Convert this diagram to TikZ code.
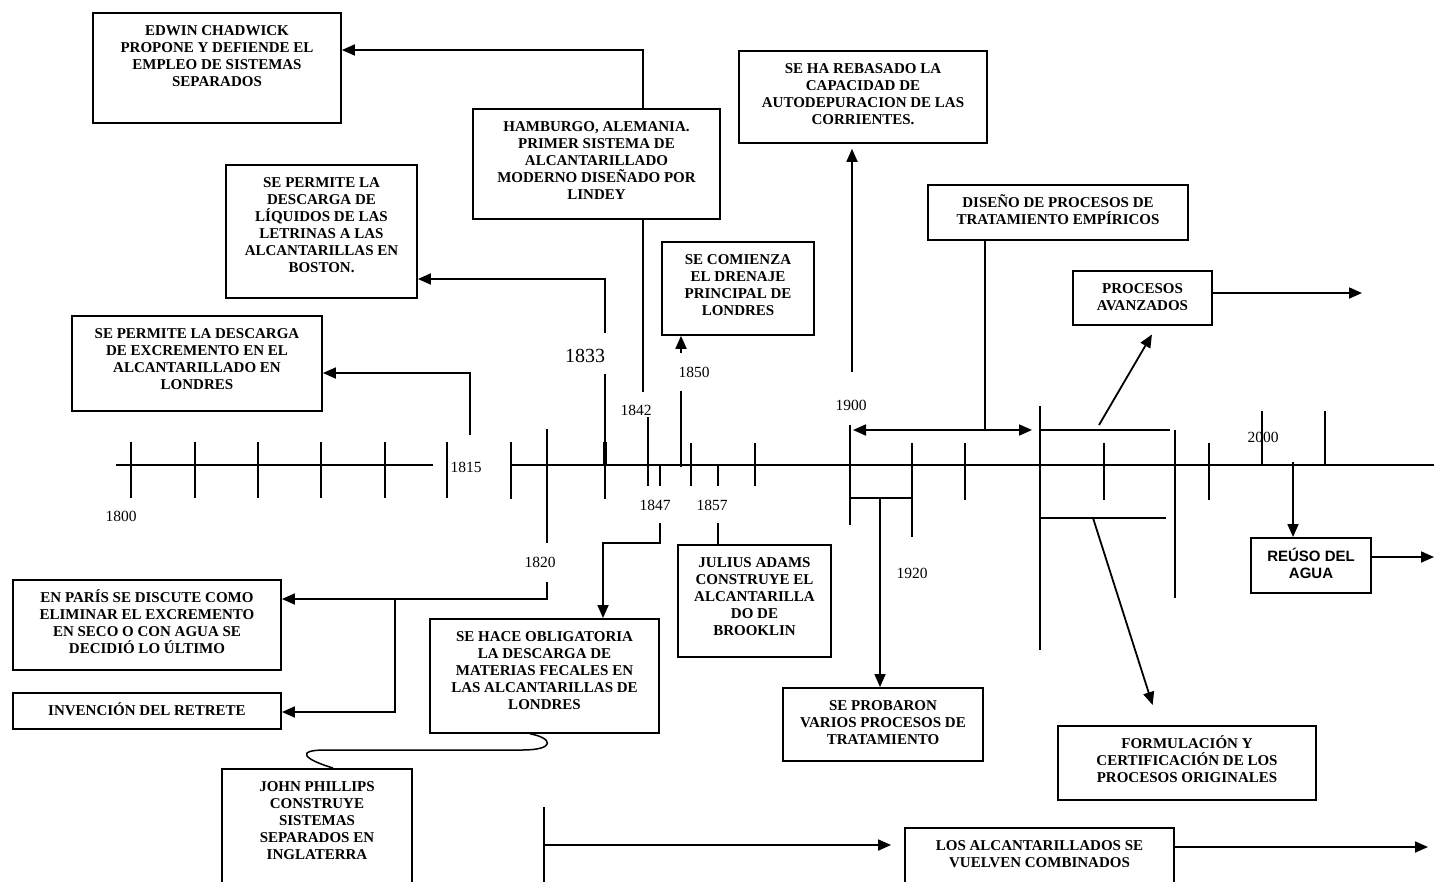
\documentclass[tikz,border=0pt]{standalone}
\usepackage{fontspec}
\setmainfont{Liberation Serif}
\newfontfamily\sansfam{Liberation Sans}
\usetikzlibrary{arrows.meta}

% event text: fixed-size box, text centred horizontally and set from the top
\newcommand\evt[3]{\vbox to #2{\hsize=#1\relax\parindent=0pt\relax
  \lineskiplimit=-100pt\relax\vskip10pt\centering
  \leavevmode\vrule width0pt height13pt depth0pt\relax#3\par\vss}}

\begin{document}
\begin{tikzpicture}[x=1pt,y=-1pt,
  ln/.style={line width=1.8pt},
  arr/.style={ln,-{Triangle[length=13pt,width=11pt]}},
  dblarr/.style={ln,{Triangle[length=13pt,width=11pt]}-{Triangle[length=13pt,width=11pt]}},
  evbox/.style={draw,line width=1.8pt,inner sep=0pt,anchor=north,
    font=\bfseries\fontsize{15}{17}\selectfont},
  sansbox/.style={evbox,font=\sansfam\bfseries\fontsize{15}{17}\selectfont},
  yr/.style={font=\fontsize{15.5}{17}\selectfont,inner sep=1pt},
  bigyr/.style={font=\fontsize{20}{22}\selectfont,inner sep=1pt}]

\fill[white] (0,0) rectangle (1434,881);
\useasboundingbox (0,0) rectangle (1434,881);

% ---------- timeline ----------
\coordinate (ax0) at (116,465);
\coordinate (ax1) at (433,465);
\coordinate (ax2) at (511,465);
\coordinate (ax3) at (1434,465);
\draw[ln] (ax0) -- (ax1);
\draw[ln] (ax2) -- (ax3);
\foreach \x/\a/\b in {131/442/498,195/442/498,258/442/498,321/442/498,385/442/498,
  447/442/498,511/442/499,547/429/543,605/374/499,648/417/486,660/466/486,
  681/391/467,691/443/486,718/466/486,755/443/486,850/425/525,912/443/537,
  965/443/500,1040/406/650,1104/443/500,1175/430/598,1209/443/500,
  1262/411/466,1325/411/466}
  \draw[ln] (\x,\a) -- (\x,\b);
\draw[line width=3.2pt] (605,442) -- (605,466);

% ---------- years ----------
\node[yr] (y1800) at (121,516) {1800};
\node[yr] (y1815) at (466,467) {1815};
\node[yr] (y1820) at (540,562) {1820};
\node[bigyr] (y1833) at (585,356) {1833};
\node[yr] (y1842) at (636,410) {1842};
\node[yr] (y1847) at (655,505) {1847};
\node[yr] (y1850) at (694,372) {1850};
\node[yr] (y1857) at (712,505) {1857};
\node[yr] (y1900) at (851,405) {1900};
\node[yr] (y1920) at (912,573) {1920};
\node[yr] (y2000) at (1263,437) {2000};

% ---------- events ----------
\node[evbox] (chad) at (217,12) {\evt{248pt}{110pt}{EDWIN CHADWICK\\PROPONE Y DEFIENDE EL\\EMPLEO DE SISTEMAS\\SEPARADOS}};
\node[evbox] (hamb) at (596.5,108) {\evt{247pt}{110pt}{HAMBURGO, ALEMANIA.\\PRIMER SISTEMA DE\\ALCANTARILLADO\\MODERNO DISEÑADO POR\\LINDEY}};
\node[evbox] (bost) at (321.5,164) {\evt{191pt}{133pt}{SE PERMITE LA\\DESCARGA DE\\LÍQUIDOS DE LAS\\LETRINAS A LAS\\ALCANTARILLAS EN\\BOSTON.}};
\node[evbox] (excr) at (197,315) {\evt{250pt}{95pt}{SE PERMITE LA DESCARGA\\DE EXCREMENTO EN EL\\ALCANTARILLADO EN\\LONDRES}};
\node[evbox] (rebas) at (863,50) {\evt{248pt}{92pt}{SE HA REBASADO LA\\CAPACIDAD DE\\AUTODEPURACION DE LAS\\CORRIENTES.}};
\node[evbox] (drena) at (738,241) {\evt{152pt}{93pt}{SE COMIENZA\\EL DRENAJE\\PRINCIPAL DE\\LONDRES}};
\node[evbox] (disen) at (1058,184) {\evt{260pt}{55pt}{DISEÑO DE PROCESOS DE\\TRATAMIENTO EMPÍRICOS}};
\node[evbox] (proc) at (1142.5,270) {\evt{139pt}{54pt}{PROCESOS\\AVANZADOS}};
\node[sansbox] (reuso) at (1311,537) {\evt{120pt}{55pt}{REÚSO DEL\\AGUA}};
\node[evbox] (paris) at (147,579) {\evt{268pt}{90pt}{EN PARÍS SE DISCUTE COMO\\ELIMINAR EL EXCREMENTO\\EN SECO O CON AGUA SE\\DECIDIÓ LO ÚLTIMO}};
\node[evbox] (retr) at (147,692) {\evt{268pt}{36pt}{INVENCIÓN DEL RETRETE}};
\node[evbox] (john) at (317,768) {\evt{190pt}{125pt}{JOHN PHILLIPS\\CONSTRUYE\\SISTEMAS\\SEPARADOS EN\\INGLATERRA}};
\node[evbox] (hace) at (544.5,618) {\evt{229pt}{114pt}{SE HACE OBLIGATORIA\\LA DESCARGA DE\\MATERIAS FECALES EN\\LAS ALCANTARILLAS DE\\LONDRES}};
\node[evbox] (jul) at (754.5,544) {\evt{153pt}{112pt}{JULIUS ADAMS\\CONSTRUYE EL\\ALCANTARILLA\\DO DE\\BROOKLIN}};
\node[evbox] (prob) at (883,687) {\evt{200pt}{73pt}{SE PROBARON\\VARIOS PROCESOS DE\\TRATAMIENTO}};
\node[evbox] (form) at (1187,725) {\evt{258pt}{74pt}{FORMULACIÓN Y\\CERTIFICACIÓN DE LOS\\PROCESOS ORIGINALES}};
\node[evbox] (comb) at (1039.5,827) {\evt{269pt}{70pt}{LOS ALCANTARILLADOS SE\\VUELVEN COMBINADOS}};

% ---------- connectors ----------
\coordinate (k42) at (643,392);
\coordinate (b1) at (643,50);
\draw[ln] (hamb.south -| k42) -- (k42);
\draw[arr] (hamb.north -| b1) -- (b1) -- (chad.east |- b1);

\coordinate (q33) at (605,333);
\coordinate (b2) at (605,279);
\draw[arr] (q33) -- (b2) -- (bost.east |- b2);

\coordinate (q15) at (470,435);
\coordinate (b3) at (470,373);
\draw[arr] (q15) -- (b3) -- (excr.east |- b3);

\coordinate (q20) at (547,582);
\coordinate (b4) at (547,599);
\coordinate (b5) at (395,599);
\coordinate (b6) at (395,712);
\draw[arr] (q20) -- (b4) -- (paris.east |- b4);
\draw[arr] (b5) -- (b6) -- (retr.east |- b6);

\coordinate (q47) at (660,523);
\coordinate (b7) at (660,543);
\coordinate (b8) at (603,543);
\draw[arr] (q47) -- (b7) -- (b8) -- (hace.north -| b8);

\coordinate (q57) at (718,523);
\draw[ln] (q57) -- (jul.north -| q57);

\coordinate (q50) at (681,353);
\draw[arr] (q50) -- (drena.south -| q50);

\coordinate (q00) at (852,372);
\draw[arr,shorten >=5pt] (q00) -- (rebas.south -| q00);

\coordinate (d1) at (853,430);
\coordinate (d2) at (1032,430);
\coordinate (d3) at (985,430);
\draw[dblarr] (d1) -- (d2);
\draw[ln] (disen.south -| d3) -- (d3);

\coordinate (e0) at (850,498);
\coordinate (e2) at (912,498);
\coordinate (e1) at (880,498);
\draw[ln] (e0) -- (e2);
\draw[arr] (e1) -- (prob.north -| e1);

\coordinate (g0) at (1040,430);
\coordinate (g2) at (1170,430);
\draw[ln] (g0) -- (g2);
\coordinate (f1) at (1099,425);
\coordinate (f2) at (1157,324);
\draw[arr,shorten >=10pt] (f1) -- (proc.south -| f2);

\coordinate (g3) at (1040,518);
\coordinate (g4) at (1166,518);
\draw[ln] (g3) -- (g4);
\coordinate (f3) at (1093,518);
\coordinate (f4) at (1159,725);
\draw[arr,shorten >=21pt] (f3) -- (form.north -| f4);

\coordinate (h1) at (1362,293);
\draw[arr] (proc.east |- h1) -- (h1);

\coordinate (r1) at (1293,462);
\draw[arr] (r1) -- (reuso.north -| r1);
\coordinate (r2) at (1434,557);
\draw[arr] (reuso.east |- r2) -- (r2);

\coordinate (s1) at (544,807);
\coordinate (s2) at (544,890);
\coordinate (s3) at (544,845);
\draw[ln] (s1) -- (s2);
\draw[arr,shorten >=13pt] (s3) -- (comb.west |- s3);

\coordinate (t1) at (1428,847);
\draw[arr] (comb.east |- t1) -- (t1);

\coordinate (w1) at (333,768);
\coordinate (w2) at (530,732);
\draw[line width=1.5pt] (john.north -| w1) .. controls (303,759) and (296,750) .. (325,750)
  -- (522,750) .. controls (556,750) and (553,738) .. (hace.south -| w2);
\end{tikzpicture}
\end{document}
